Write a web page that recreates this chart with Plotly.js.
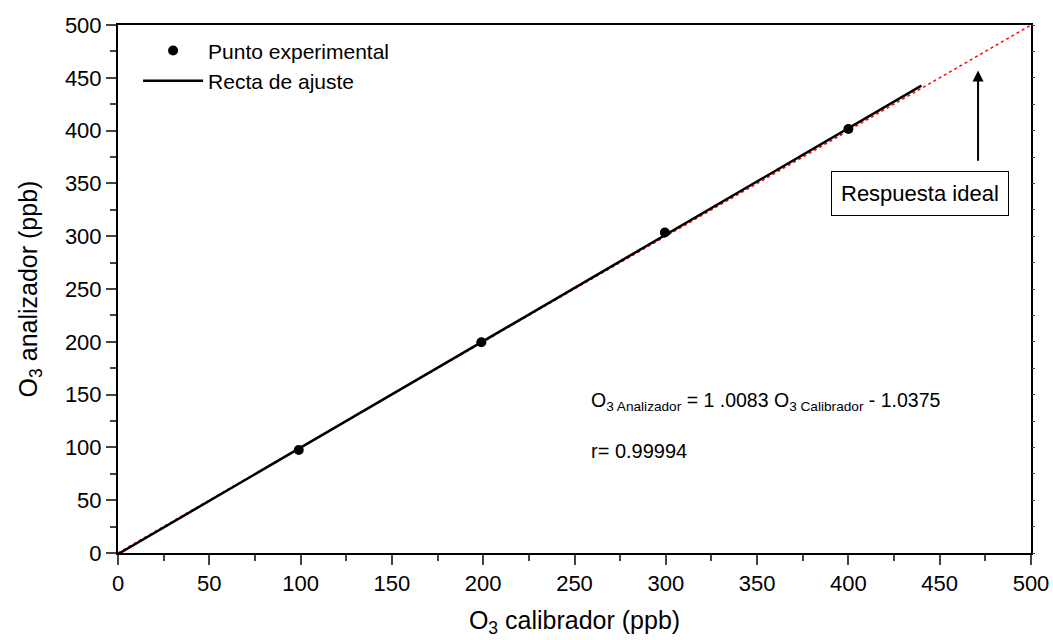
<!DOCTYPE html>
<html>
<head>
<meta charset="utf-8">
<script src="https://cdn.plot.ly/plotly-3.0.1.min.js"></script>
<style>html,body{margin:0;padding:0;background:#fff;}#chart{width:1053px;height:640px;}</style>
</head>
<body>
<div id="chart"></div>
<script>
// Experimental points
const calibrador = [99, 199, 299.5, 400];
const analizador = [97.5, 199.5, 303.5, 401.5];
// Fit line: O3 analizador = 1.0083 * O3 calibrador - 1.0375
const fitSlope = 1.0083;
const fitIntercept = -1.0375;
const fitX = [0, 440];
const fitY = fitX.map(v => fitSlope * v + fitIntercept);
// Ideal response
const idealX = [0, 500];
const idealY = [0, 500];
const tickVals = [0, 50, 100, 150, 200, 250, 300, 350, 400, 450, 500];

const FONT = 'Liberation Sans, Arial, sans-serif';

const traces = [
  {x: idealX, y: idealY, mode: 'lines', line: {color: '#ff0000', width: 1.5, dash: 'dot'}, showlegend: false, hoverinfo: 'skip'},
  {x: fitX, y: fitY, mode: 'lines', name: 'Recta de ajuste', line: {color: '#000', width: 2.5}},
  {x: calibrador, y: analizador, mode: 'markers', name: 'Punto experimental', marker: {color: '#000', size: 10, symbol: 'circle'}},
  {x: [0], y: [0], yaxis: 'y2', mode: 'markers', marker: {opacity: 0}, showlegend: false, hoverinfo: 'skip'}
];

const layout = {
  width: 1053, height: 640,
  margin: {l: 118, r: 22, t: 25, b: 87},
  paper_bgcolor: '#fff', plot_bgcolor: '#fff',
  font: {family: FONT, color: '#000', size: 20},
  showlegend: true,
  legend: {
    x: 0.022, y: 0.99, xanchor: 'left', yanchor: 'top',
    bgcolor: 'rgba(0,0,0,0)', borderwidth: 0,
    font: {family: FONT, size: 21, color: '#000'},
    traceorder: 'reversed', itemwidth: 60, tracegroupgap: 0
  },
  xaxis: {
    range: [0, 500], tickvals: tickVals, ticks: 'outside', ticklen: 10, tickwidth: 2,
    minor: {dtick: 25, ticks: 'outside', ticklen: 6, tickwidth: 2, showgrid: false},
    showline: true, linewidth: 2, linecolor: '#000', mirror: true, showgrid: false, zeroline: false,
    tickfont: {family: FONT, size: 22},
    title: {text: 'O<sub>3</sub> calibrador (ppb)', font: {family: FONT, size: 25}, standoff: 16}
  },
  yaxis: {
    range: [0, 500], tickvals: tickVals, ticks: 'outside', ticklen: 10, tickwidth: 2,
    minor: {dtick: 25, ticks: 'outside', ticklen: 6, tickwidth: 2, showgrid: false},
    showline: true, linewidth: 2, linecolor: '#000', mirror: true, showgrid: false, zeroline: false,
    tickfont: {family: FONT, size: 22},
    title: {text: 'O<sub>3</sub> analizador (ppb)', font: {family: FONT, size: 25}, standoff: 20}
  },
  yaxis2: {
    overlaying: 'y', side: 'right', range: [0, 500], dtick: 25, ticks: 'outside', ticklen: 3, tickwidth: 1,
    showticklabels: false, showgrid: false, zeroline: false, showline: false
  },
  annotations: [
    {x: 471, y: 457, ax: 471, ay: 370, xref: 'x', yref: 'y', axref: 'x', ayref: 'y',
     showarrow: true, arrowhead: 2, arrowsize: 1.1, arrowwidth: 2, arrowcolor: '#000', text: ''},
    {x: 439, y: 340, xref: 'x', yref: 'y', showarrow: false, text: 'Respuesta ideal',
     font: {family: FONT, size: 22}, bordercolor: '#000', borderwidth: 1, borderpad: 9, bgcolor: '#fff'},
    {x: 0.516, y: 0.26, xref: 'paper', yref: 'paper', xanchor: 'left', showarrow: false,
     text: 'O<sub>3 Analizador</sub> = 1 .0083 O<sub>3 Calibrador</sub> - 1.0375', font: {family: FONT, size: 19.5}},
    {x: 0.516, y: 0.168, xref: 'paper', yref: 'paper', xanchor: 'left', showarrow: false,
     text: 'r= 0.99994', font: {family: FONT, size: 20}}
  ]
};

Plotly.newPlot('chart', traces, layout, {displayModeBar: false, staticPlot: true});
</script>
</body>
</html>
